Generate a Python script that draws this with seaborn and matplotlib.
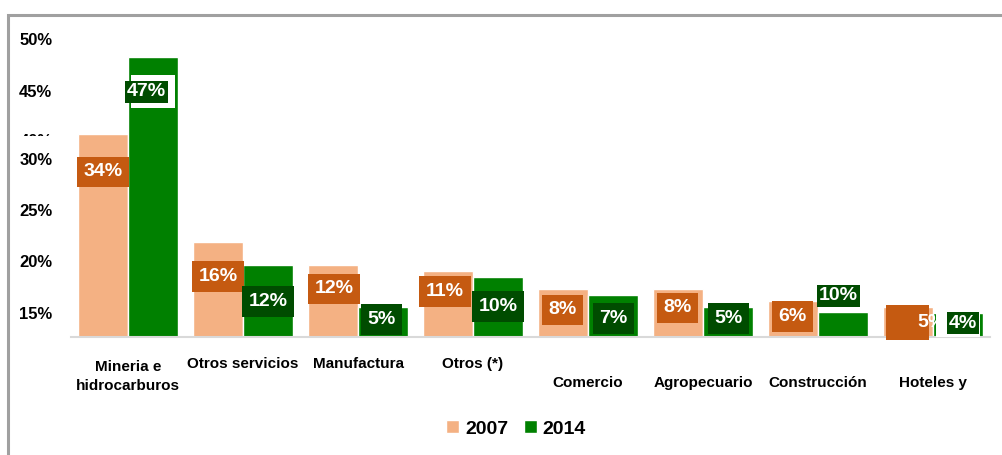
import matplotlib
matplotlib.use('Agg')
import matplotlib.pyplot as plt
from matplotlib import font_manager
from matplotlib.patches import Patch, Rectangle
import seaborn as sns
import pandas as pd

#%% Datos

sectores = ['Mineria e\nhidrocarburos', 'Otros servicios', 'Manufactura', 'Otros (*)',
            'Comercio', 'Agropecuario', 'Construcción', 'Hoteles y']
anios = ['2007', '2014']
valores_2007 = [34, 16, 12, 11, 8, 8, 6, 5]
valores_2014 = [47, 12, 5, 10, 7, 5, 4.2, 4]
etiquetas_2007 = ['34%', '16%', '12%', '11%', '8%', '8%', '6%', '5%']
etiquetas_2014 = ['47%', '12%', '5%', '10%', '7%', '5%', '10%', '4%']

# eje Y del original (marcas desordenadas tal cual aparecen)
ticks_y = [50, 41.3, 33.0, 29.9, 21.3, 12.8, 4.0]
ticks_y_txt = ['50%', '45%', '40%', '30%', '25%', '20%', '15%']

#%% Estilo

color_2007 = '#F4B183'
color_2014 = '#008000'
caja_2007 = '#C55A11'
caja_2014 = '#004C00'

# desplazamientos de las etiquetas respecto del tope de la barra (px)
dx_2007 = [0, 0, 1, -3, -0.5, -0.5, -0.5, -0.5]
dy_2007 = [-37.5, -35, -23.5, -20, -20.5, -18.5, -15, -15.5]
dx_2014 = [-6.5, 0, -1.5, 0, 0.5, 0.5, -4.5, 5]
dy_2014 = [-35, -36, -12.5, -29, -23.5, -11.5, 16, -10]
pad_2014 = [0.12, 0.35, 0.35, 0.35, 0.35, 0.35, 0.12, 0.12]
fondo_blanco_2014 = [True, False, False, False, False, False, False, True]
texto_dx_2007 = [0, 0, 0, 0, 0, 0, 0, 24]  # el "5%" de Hoteles se sale de su caja

sns.set_style('white')


def hay_fuente(nombre):
    try:
        font_manager.findfont(nombre, fallback_to_default=False)
        return True
    except Exception:
        return False


if hay_fuente('Liberation Sans Narrow'):
    fam_eje, tam_eje, tam_y = ['Liberation Sans Narrow', 'DejaVu Sans'], 13, 13
else:
    fam_eje, tam_eje, tam_y = ['Liberation Sans', 'DejaVu Sans'], 11, 12
plt.rcParams['font.family'] = ['Liberation Sans', 'DejaVu Sans']

#%% Datos en formato largo

df = pd.DataFrame({
    'sector': sectores * 2,
    'anio': [anios[0]] * len(sectores) + [anios[1]] * len(sectores),
    'valor': valores_2007 + valores_2014,
})

fig = plt.figure(figsize=(10.03, 4.55), dpi=100)
W, H = 1003, 455
ax = fig.add_axes([70.5 / W, 118 / H, 920 / W, 310 / H])

sns.barplot(data=df, x='sector', y='valor', hue='anio', hue_order=anios,
            palette={anios[0]: color_2007, anios[1]: color_2014},
            width=0.87, gap=0, saturation=1, legend=False, ax=ax)

ax.set_xlim(-0.5, len(sectores) - 0.5)
ax.set_ylim(0, 52)
ax.set_xlabel('')
ax.set_ylabel('')
for s in ['left', 'right', 'top']:
    ax.spines[s].set_visible(False)
ax.spines['bottom'].set_color('#D9D9D9')
ax.spines['bottom'].set_linewidth(1.5)

# eje Y
ax.set_yticks(ticks_y)
ax.set_yticklabels(ticks_y_txt, fontweight='bold', fontsize=tam_y, family=fam_eje, color='black')
ax.tick_params(axis='y', length=0, pad=13)

# eje X: etiquetas en dos alturas
ax.set_xticks(range(len(sectores)))
ax.set_xticklabels([])
ax.tick_params(axis='x', length=0)
for i, sec in enumerate(sectores):
    bajada = 22.3 if i < 4 else 36
    bajada += 15.5 * sec.count('\n')  # va='baseline' toma la ultima linea
    ax.annotate(sec, xy=(i, 0), xycoords=('data', 'axes fraction'),
                xytext=(0, -bajada), textcoords='offset points',
                ha='center', va='baseline', fontsize=tam_eje, fontweight='bold',
                family=fam_eje, linespacing=1.45, color='black')

px = 0.72  # px -> pt a 100 dpi
ppu = ax.bbox.height / 52  # px por unidad del eje y
ppx = ax.bbox.width / len(sectores)  # px por categoria

# etiquetas 2007
for bar, txt, dx, dy, tdx in zip(ax.containers[0], etiquetas_2007, dx_2007, dy_2007, texto_dx_2007):
    x = bar.get_x() + bar.get_width() / 2
    y = bar.get_height()
    kw = dict(xy=(x, y), textcoords='offset points', ha='center', va='center',
              fontsize=14, fontweight='bold', color='white', annotation_clip=False)
    if tdx == 0:
        ax.annotate(txt, xytext=(dx * px, dy * px), zorder=3,
                    bbox=dict(boxstyle='square,pad=0.35', fc=caja_2007, ec='none'), **kw)
    else:
        # caja aparte y texto desplazado
        ancho, alto = 43 / ppx, 35 / ppu
        xc, yc = x + dx / ppx, y + dy / ppu
        ax.add_patch(Rectangle((xc - ancho / 2, yc - alto / 2), ancho, alto,
                               fc=caja_2007, ec='none', zorder=3, clip_on=False))
        ax.annotate(txt, xytext=((dx + tdx) * px, dy * px), zorder=3.1, **kw)

# etiquetas 2014
for bar, txt, dx, dy, pad, blanco in zip(ax.containers[1], etiquetas_2014, dx_2014, dy_2014,
                                         pad_2014, fondo_blanco_2014):
    x = bar.get_x() + bar.get_width() / 2
    y = bar.get_height()
    if blanco:
        yc = y + dy / ppu
        alto = 33 / ppu
        ax.add_patch(Rectangle((bar.get_x() + 0.025, yc - alto / 2), bar.get_width() - 0.05, alto,
                               fc='white', ec='none', zorder=4))
    ax.annotate(txt, xy=(x, y), xytext=(dx * px, dy * px), textcoords='offset points',
                ha='center', va='center', fontsize=14, fontweight='bold', color='white',
                zorder=5, annotation_clip=False,
                bbox=dict(boxstyle=f'square,pad={pad}', fc=caja_2014, ec='none'))

# el "40%" del original aparece cortado
fig.patches.append(Rectangle((12 / W, 1 - 150 / H), 50 / W, 14 / H, transform=fig.transFigure,
                             fc='white', ec='none', zorder=10))

# marco gris del recuadro
fig.patches.append(Rectangle((8 / W, -0.1), 1.2, 1 - 14.5 / H + 0.1, transform=fig.transFigure,
                             fill=False, ec='#A0A0A0', lw=2.2, zorder=11))

# leyenda
leg = fig.legend(handles=[Patch(fc=color_2007), Patch(fc=color_2014)], labels=anios,
                 loc='center', bbox_to_anchor=(516 / W, 1 - 429 / H), ncol=2, frameon=False,
                 prop=dict(weight='bold', size=14), handlelength=0.67, handleheight=0.62,
                 handletextpad=0.3, columnspacing=0.8, borderpad=0)
for t in leg.get_texts():
    t.set_color('black')

fig.savefig('out.png', dpi=100)
plt.close(fig)
